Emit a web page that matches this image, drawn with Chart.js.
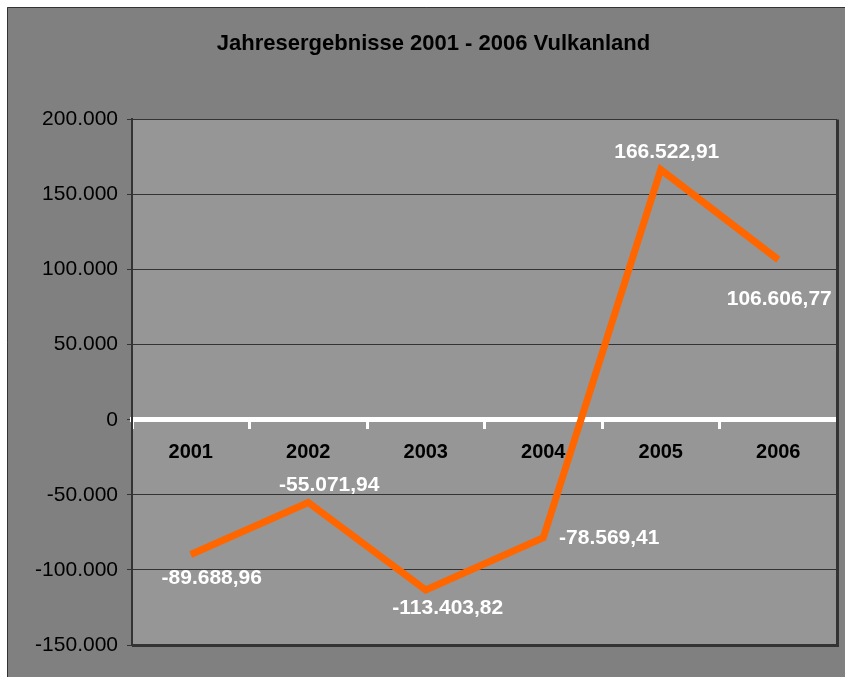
<!DOCTYPE html>
<html>
<head>
<meta charset="utf-8">
<title>Jahresergebnisse 2001 - 2006 Vulkanland</title>
<script src="https://cdn.jsdelivr.net/npm/chart.js@4"></script>
<style>
    body { margin: 0; background: #fff; }
    canvas { display: block; }
</style>
</head>
<body>
<canvas id="chart" width="845" height="677"></canvas>
<script>
const years = ['2001', '2002', '2003', '2004', '2005', '2006'];
const results = [-89688.96, -55071.94, -113403.82, -78569.41, 166522.91, 106606.77];
const yMin = -150000;
const yMax = 200000;
const yStep = 50000;

const fontFamily = "'Liberation Sans', Arial, sans-serif";

// german number format: 166.522,91
function formatDe(value, decimals) {
    const neg = value < 0;
    const parts = Math.abs(value).toFixed(decimals).split('.');
    const int = parts[0].replace(/\B(?=(\d{3})+(?!\d))/g, '.');
    return (neg ? '-' : '') + int + (parts[1] ? ',' + parts[1] : '');
}

const backgroundPlugin = {
    id: 'backgrounds',
    beforeDraw(chart) {
        const ctx = chart.ctx;
        const a = chart.chartArea;
        ctx.save();
        ctx.fillStyle = '#ffffff';
        ctx.fillRect(0, 0, chart.width, chart.height);
        ctx.fillStyle = '#808080';
        ctx.fillRect(7, 7, chart.width - 7, chart.height - 7);
        ctx.strokeStyle = '#333333';
        ctx.lineWidth = 1;
        ctx.beginPath();
        ctx.moveTo(7.5, chart.height);
        ctx.lineTo(7.5, 7.5);
        ctx.lineTo(chart.width, 7.5);
        ctx.stroke();
        ctx.fillStyle = '#969696';
        ctx.fillRect(a.left, a.top, a.right - a.left, a.bottom - a.top);
        ctx.restore();
    },
    afterDraw(chart) {
        const ctx = chart.ctx;
        const a = chart.chartArea;
        ctx.save();
        ctx.strokeStyle = '#333333';
        ctx.lineWidth = 3;
        ctx.beginPath();
        ctx.moveTo(a.left, a.bottom + 0.5);
        ctx.lineTo(a.right + 0.5, a.bottom + 0.5);
        ctx.lineTo(a.right + 0.5, a.top);
        ctx.stroke();
        ctx.restore();
    }
};

const valueLabels = {
    id: 'valueLabels',
    afterDatasetsDraw(chart, args, opts) {
        const ctx = chart.ctx;
        const meta = chart.getDatasetMeta(0);
        ctx.save();
        ctx.font = 'bold 21px ' + fontFamily;
        ctx.fillStyle = '#ffffff';
        ctx.textAlign = 'center';
        ctx.textBaseline = 'middle';
        meta.data.forEach((pt, i) => {
            const off = opts.offsets[i];
            ctx.fillText(formatDe(results[i], 2), pt.x + off[0], pt.y + off[1]);
        });
        ctx.restore();
    }
};

new Chart(document.getElementById('chart'), {
    type: 'line',
    data: {
        labels: years,
        datasets: [{
            label: 'Jahresergebnis',
            data: results,
            borderColor: '#ff6600',
            borderWidth: 7,
            tension: 0,
            pointRadius: 0,
            pointHoverRadius: 0,
            fill: false
        }]
    },
    options: {
        responsive: false,
        animation: false,
        devicePixelRatio: 1,
        layout: {
            padding: { top: 0, right: 8, bottom: 32, left: 30 }
        },
        plugins: {
            legend: { display: false },
            tooltip: { enabled: false },
            title: {
                display: true,
                text: 'Jahresergebnisse 2001 - 2006 Vulkanland',
                color: '#000000',
                font: { family: fontFamily, size: 22, weight: 'bold' },
                padding: { top: 31, bottom: 62 }
            },
            valueLabels: {
                offsets: [[21, 24], [21, -17], [22, 18], [66, 0], [6, -17], [1, 40]]
            }
        },
        scales: {
            x: {
                position: { y: 0 },
                offset: true,
                grid: {
                    display: true,
                    offset: true,
                    drawOnChartArea: false,
                    drawTicks: true,
                    tickLength: 7,
                    color: '#ffffff',
                    lineWidth: 3
                },
                border: { display: true, color: '#ffffff', width: 5 },
                ticks: {
                    color: '#000000',
                    padding: 14,
                    font: { family: fontFamily, size: 20, weight: 'bold' }
                }
            },
            y: {
                min: yMin,
                max: yMax,
                afterFit(scale) { scale.width = 102; },
                grid: {
                    color: ctx => (ctx.tick && ctx.tick.value === 0) ? 'rgba(0,0,0,0)' : '#333333',
                    lineWidth: 1,
                    tickLength: 5,
                    tickColor: '#333333'
                },
                border: { display: true, color: '#333333', width: 2 },
                ticks: {
                    stepSize: yStep,
                    color: '#000000',
                    padding: 9,
                    font: { family: fontFamily, size: 21 },
                    callback: v => formatDe(v, 0)
                }
            }
        }
    },
    plugins: [backgroundPlugin, valueLabels]
});
</script>
</body>
</html>
